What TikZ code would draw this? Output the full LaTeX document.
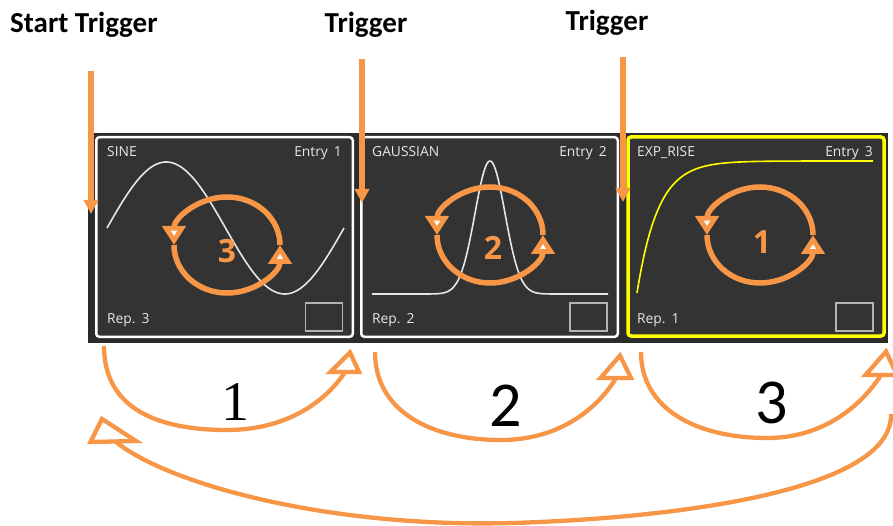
\documentclass[tikz,border=0pt]{standalone}
\usepackage{fontspec}
\newfontfamily\uifont{Open Sans}
\newfontfamily\calfont{Carlito}
\newfontfamily\serfont{Liberation Serif}
\usetikzlibrary{arrows.meta}
\definecolor{orng}{HTML}{F79646}
\definecolor{strip}{HTML}{2B2B2B}
\definecolor{pane}{HTML}{333333}
\definecolor{txt}{HTML}{E8E8E8}
\definecolor{boxc}{HTML}{B4B4B4}
\definecolor{yel}{HTML}{FFFF00}
\definecolor{wave}{HTML}{E6E6E6}
\tikzset{
  trig/.style={draw=orng, line width=5.3pt, -{Triangle[length=14pt,width=14pt]}},
  hopline/.style={draw=orng, line width=4.3pt},
  headtri/.style={draw=orng, line width=4.3pt, fill=white, line join=miter},
  loopa/.style={draw=orng, line width=5.5pt, -{Triangle[open,fill=white,length=19pt,width=23pt]}},
  panel/.style={draw=white, line width=2.5pt, fill=pane, rounded corners=3pt,
    minimum width=256.5pt, minimum height=199.5pt, inner sep=0pt},
  smallbox/.style={draw=boxc, line width=1.3pt, minimum width=37pt, minimum height=28pt, inner sep=0pt},
  ptxt/.style={font=\uifont\fontsize{13.8}{16}\selectfont, text=txt, inner sep=0pt},
  lnum/.style={font=\uifont\bfseries\fontsize{32}{36}\selectfont, text=orng, inner sep=0pt},
  trl/.style={font=\calfont\bfseries\fontsize{29}{32}\selectfont, inner sep=0pt},
  hnumser/.style={font=\serfont\fontsize{56}{60}\selectfont, inner sep=0pt},
  hnumcal/.style={font=\calfont\fontsize{64}{70}\selectfont, inner sep=0pt},
  wavec/.style={draw=wave, line width=1.6pt},
}
\begin{document}
\begin{tikzpicture}[x=1pt,y=-1pt]
\useasboundingbox (0,0) rectangle (893,526);
% dark strip
\fill[strip] (88,133.5) rectangle (888,342.5);
% panels
\node[panel] (p1) at (224.5,237) {};
\node[panel] (p2) at (489.5,237) {};
\node[panel, draw=yel, line width=3.5pt, minimum width=256pt, minimum height=199pt] (p3) at (756,236.5) {};
% curves
\draw[wavec] plot[domain=107:344,samples=140] (\x,{228-66*sin((\x-107)/237*360)});
\draw[wavec] plot[domain=372:608,samples=200] (\x,{294-133*exp(-0.5*((\x-490)/15)*((\x-490)/15))});
\draw[wavec, draw=yel] plot[domain=637:873,samples=160] (\x,{293-132*(1-exp(-(\x-637)/21))});
% panel texts
\node[ptxt, anchor=base west] (n1) at (107,157) {SINE};
\node[ptxt, anchor=base east] (e1) at (342,157) {Entry\hspace{6pt}1};
\node[ptxt, anchor=base west] (r1) at (107,323) {Rep.\hspace{6pt}3};
\node[smallbox] (b1) at (324,317) {};
\node[ptxt, anchor=base west] (n2) at (372,157) {GAUSSIAN};
\node[ptxt, anchor=base east] (e2) at (607,157) {Entry\hspace{6pt}2};
\node[ptxt, anchor=base west] (r2) at (372,323) {Rep.\hspace{6pt}2};
\node[smallbox] (b2) at (588.5,317) {};
\node[ptxt, anchor=base west] (n3) at (637,157) {EXP\_RISE};
\node[ptxt, anchor=base east] (e3) at (873,157) {Entry\hspace{6pt}3};
\node[ptxt, anchor=base west] (r3) at (637,323) {Rep.\hspace{6pt}1};
\node[smallbox] (b3) at (854.5,317) {};
% loops
\coordinate (l1r) at (280,245); \coordinate (l1l) at (174,245);
\coordinate (l2r) at (543,235); \coordinate (l2l) at (437,235);
\coordinate (l3r) at (813,235); \coordinate (l3l) at (707,235);
\draw[loopa] (l1r) arc[start angle=0,end angle=180,x radius=53pt,y radius=48pt];
\draw[loopa] (l1l) arc[start angle=180,end angle=360,x radius=53pt,y radius=48pt];
\draw[loopa] (l2r) arc[start angle=0,end angle=180,x radius=53pt,y radius=48pt];
\draw[loopa] (l2l) arc[start angle=180,end angle=360,x radius=53pt,y radius=48pt];
\draw[loopa] (l3r) arc[start angle=0,end angle=180,x radius=53pt,y radius=48pt];
\draw[loopa] (l3l) arc[start angle=180,end angle=360,x radius=53pt,y radius=48pt];
\node[lnum] (k1) at (227,251) {3};
\node[lnum] (k2) at (493,248) {2};
\node[lnum] (k3) at (762,242) {1};
% trigger labels and arrows
\node[trl, anchor=base west] (lst) at (10,33) {Start Trigger};
\node[trl, anchor=base] (lt2) at (366,33) {Trigger};
\node[trl, anchor=base] (lt3) at (607,31) {Trigger};
\coordinate (t1a) at (91,71);  \coordinate (t1b) at (91,214);
\coordinate (t2a) at (362,59); \coordinate (t2b) at (362,203);
\coordinate (t3a) at (623,57); \coordinate (t3b) at (623,202);
\draw[trig] (t1a) -- (t1b);
\draw[trig] (t2a) -- (t2b);
\draw[trig] (t3a) -- (t3b);
% bottom hops
\coordinate (a1s) at (104,346); \coordinate (a1b) at (345,372);
\coordinate (a2s) at (375,352); \coordinate (a2b) at (616,378);
\coordinate (a3s) at (641,352); \coordinate (a3b) at (881,375);
\draw[hopline] (a1s) .. controls (104,410) and (160,430) .. (227,430)
        .. controls (288,430) and (327,400) .. (a1b);
\draw[headtri] (350,352.5) -- (330.5,372) -- (359,372) -- cycle;
\draw[hopline] (a2s) .. controls (375,412) and (432,440) .. (501,440)
        .. controls (560,440) and (598,408) .. (a2b);
\draw[headtri] (620,355.5) -- (600.5,378) -- (631,378) -- cycle;
\draw[hopline] (a3s) .. controls (641,410) and (698,438) .. (767,438)
        .. controls (826,438) and (863,403) .. (a3b);
\draw[headtri] (886,351.5) -- (865.5,375) -- (897,375) -- cycle;
\coordinate (rs) at (891,414); \coordinate (rm) at (512,523); \coordinate (rb) at (116,442);
\draw[hopline] (rs) .. controls (893,490) and (680,518) .. (rm)
       .. controls (330,528) and (170,485) .. (rb);
\draw[headtri] (102,419) -- (90.5,442) -- (136,441) -- cycle;
\node[hnumser] (h1) at (235,402) {1};
\node[hnumcal] (h2) at (506,406) {2};
\node[hnumcal] (h3) at (772,403) {3};
\end{tikzpicture}
\end{document}
